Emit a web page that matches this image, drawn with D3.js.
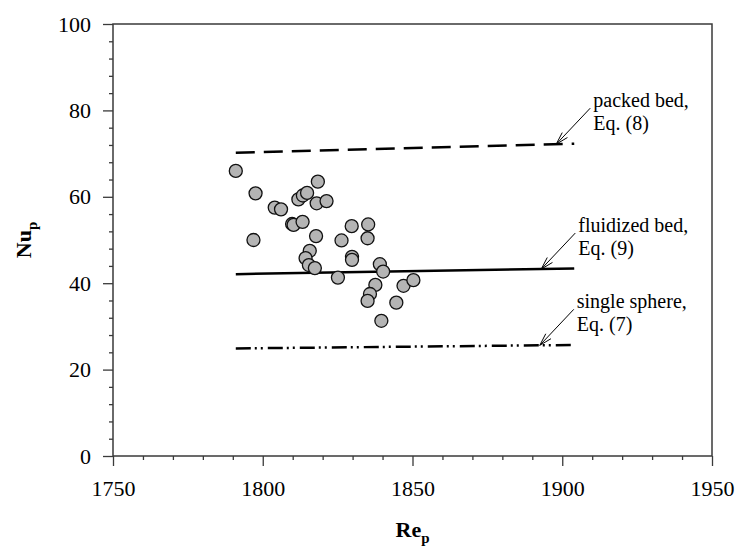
<!DOCTYPE html>
<html>
<head>
<meta charset="utf-8">
<script src="https://cdn.jsdelivr.net/npm/d3@7"></script>
<style>
	body { margin: 0; background: #fff; }
	text { font-family: "Liberation Serif", "Times New Roman", serif; }
</style>
</head>
<body>
<div id="chart"></div>
<script>
// measured points (Re_p, Nu_p)
var reData = [1791.0, 1797.6, 1796.9, 1804.0, 1806.1, 1809.8, 1810.3, 1813.3, 1811.9, 1813.4,
	1814.8, 1818.4, 1818.0, 1821.3, 1817.8, 1815.7, 1814.3, 1815.4, 1817.4, 1825.1,
	1826.3, 1829.7, 1835.2, 1835.0, 1829.8, 1829.8, 1839.1, 1840.2, 1837.6, 1835.8,
	1835.0, 1844.6, 1847.0, 1850.3, 1839.6];
var nuData = [66.0, 60.8, 50.0, 57.5, 57.1, 53.7, 53.5, 54.2, 59.4, 60.3,
	60.9, 63.5, 58.5, 59.0, 50.9, 47.5, 45.8, 44.2, 43.5, 41.3,
	49.9, 53.2, 53.6, 50.4, 46.1, 45.4, 44.4, 42.7, 39.6, 37.5,
	35.9, 35.5, 39.4, 40.7, 31.3];

// correlations, end points over Re range
var reRange = [1791, 1904];
var packedBed = [70.2, 72.3];
var fluidizedBed = [42.1, 43.4];
var singleSphere = [24.9, 25.7];

var curveNames = ["packed bed,", "fluidized bed,", "single sphere,"];
var curveEqs = ["Eq. (8)", "Eq. (9)", "Eq. (7)"];
var arrowAt = [1898, 1893, 1892.5]; // Re where the arrow hits the line

var xTicks = [1750, 1800, 1850, 1900, 1950];
var yTicks = [0, 20, 40, 60, 80, 100];

var W = 736, H = 548;
var pl = 113, pr = 712, pt = 24, pb = 456;

var x = d3.scaleLinear().domain([1750, 1950]).range([pl, pr]);
var y = d3.scaleLinear().domain([0, 100]).range([pb, pt]);

var svg = d3.select("#chart").append("svg")
	.attr("width", W)
	.attr("height", H);

var axisColor = "#3a3a3a";

// minor ticks
var xMinor = d3.range(1750, 1951, 10).filter(d => xTicks.indexOf(d) < 0);
var yMinor = d3.range(0, 101, 4).filter(d => yTicks.indexOf(d) < 0);

var gxMinor = svg.append("g")
	.attr("transform", "translate(0," + pb + ")")
	.call(d3.axisBottom(x).tickValues(xMinor).tickSize(4).tickFormat(""));
var gyMinor = svg.append("g")
	.attr("transform", "translate(" + pl + ",0)")
	.call(d3.axisLeft(y).tickValues(yMinor).tickSize(4).tickFormat(""));

var gx = svg.append("g")
	.attr("transform", "translate(0," + pb + ")")
	.call(d3.axisBottom(x).tickValues(xTicks).tickSize(10).tickPadding(14).tickFormat(d3.format("d")));
var gy = svg.append("g")
	.attr("transform", "translate(" + pl + ",0)")
	.call(d3.axisLeft(y).tickValues(yTicks).tickSize(10).tickPadding(12));

[gxMinor, gyMinor, gx, gy].forEach(function(g) {
	g.attr("font-family", "Liberation Serif, serif").attr("font-size", 22);
	g.select(".domain").remove();
	g.selectAll("line").attr("stroke", axisColor).attr("stroke-width", 1.3);
	g.selectAll("text")
		.style("font-family", "'Liberation Serif', serif")
		.style("font-size", "22px")
		.attr("fill", "#000");
});

// frame
svg.append("rect")
	.attr("x", pl)
	.attr("y", pt)
	.attr("width", pr - pl)
	.attr("height", pb - pt)
	.attr("fill", "none")
	.attr("stroke", axisColor)
	.attr("stroke-width", 1.5);

// correlation lines
var curves = [packedBed, fluidizedBed, singleSphere];
var dashes = ["19,9", null, "15,4,2,4,2,5"];

curves.forEach(function(c, i) {
	svg.append("line")
		.attr("x1", x(reRange[0]))
		.attr("y1", y(c[0]))
		.attr("x2", x(reRange[1]))
		.attr("y2", y(c[1]))
		.attr("stroke", "#000")
		.attr("stroke-width", 2.5)
		.attr("stroke-dasharray", dashes[i]);
});

// data points
svg.append("g").selectAll("circle")
	.data(reData)
	.enter()
	.append("circle")
	.attr("cx", d => x(d))
	.attr("cy", (d, i) => y(nuData[i]))
	.attr("r", 6.5)
	.attr("fill", "#b4b4b4")
	.attr("stroke", "#111")
	.attr("stroke-width", 1.3);

// annotations with open arrows
curves.forEach(function(c, i) {
	var t = (arrowAt[i] - reRange[0]) / (reRange[1] - reRange[0]);
	var tx = x(arrowAt[i]);
	var ty = y(c[0] + t * (c[1] - c[0]));
	var sx = tx + 34, sy = ty - 36;

	svg.append("line")
		.attr("x1", sx).attr("y1", sy)
		.attr("x2", tx).attr("y2", ty)
		.attr("stroke", "#000")
		.attr("stroke-width", 1);

	var ang = Math.atan2(sy - ty, sx - tx);
	[-0.28, 0.28].forEach(function(da) {
		svg.append("line")
			.attr("x1", tx).attr("y1", ty)
			.attr("x2", tx + 13 * Math.cos(ang + da))
			.attr("y2", ty + 13 * Math.sin(ang + da))
			.attr("stroke", "#000")
			.attr("stroke-width", 1);
	});

	var lbl = svg.append("text")
		.attr("x", tx + 37)
		.attr("y", ty - 37)
		.style("font-size", "20px")
		.attr("fill", "#000");
	lbl.append("tspan").attr("x", tx + 37).text(curveNames[i]);
	lbl.append("tspan").attr("x", tx + 37).attr("dy", 23).text(curveEqs[i]);
});

// axis titles
var xt = svg.append("text")
	.attr("x", (pl + pr) / 2)
	.attr("y", 537)
	.attr("text-anchor", "middle")
	.style("font-size", "22px")
	.style("font-weight", "bold");
xt.append("tspan").text("Re");
xt.append("tspan").attr("dy", 6).style("font-size", "15px").text("p");

var yt = svg.append("text")
	.attr("transform", "translate(31," + ((pt + pb) / 2) + ") rotate(-90)")
	.attr("text-anchor", "middle")
	.style("font-size", "22px")
	.style("font-weight", "bold");
yt.append("tspan").text("Nu");
yt.append("tspan").attr("dy", 6).style("font-size", "15px").text("p");
</script>
</body>
</html>
